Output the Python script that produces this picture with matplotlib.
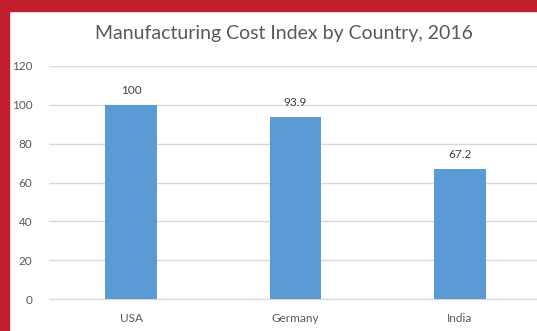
import matplotlib
matplotlib.use("Agg")
import matplotlib.pyplot as plt
from matplotlib.patches import Rectangle

countries = ["USA", "Germany", "India"]
values = [100, 93.9, 67.2]
value_labels = ["100", "93.9", "67.2"]
yticks = [0, 20, 40, 60, 80, 100, 120]

plt.rcParams['font.family'] = ['Lato', 'DejaVu Sans']

W, H = 537, 331
fig = plt.figure(figsize=(W/100, H/100), dpi=100)
fig.patch.set_facecolor('white')

ax = fig.add_axes([49/W, 1-299/H, (542-49)/W, (299-66)/H])
x = list(range(len(countries)))
ax.bar(x, values, width=0.316, color='#5b9bd5', zorder=3)
ax.set_xlim(-0.5, 2.5)
ax.set_ylim(0, 120)
ax.set_yticks(yticks)
ax.set_yticklabels([str(t) for t in yticks])
ax.set_xticks(x)
ax.set_xticklabels(countries)
ax.grid(axis='y', color='#d9d9d9', linewidth=1, zorder=0)
for s in ['top', 'right', 'left']:
    ax.spines[s].set_visible(False)
ax.spines['bottom'].set_color('#d9d9d9')
ax.tick_params(axis='both', length=0, labelsize=8.5, colors='#595959')
ax.tick_params(axis='y', pad=12)
ax.tick_params(axis='x', pad=10)

for xi, v, lab in zip(x, values, value_labels):
    ax.annotate(lab, (xi, v), xytext=(0, 6), textcoords='offset points',
                ha='center', va='bottom', fontsize=8.5, color='#404040')

fig.text(0.528, 1-33/H, "Manufacturing Cost Index by Country, 2016",
         ha='center', va='center', fontsize=14, color='#595959')

red = '#c11f2e'
fig.patches.append(Rectangle((0, 1-11/H), 1, 11/H, transform=fig.transFigure,
                             color=red, zorder=10))
fig.patches.append(Rectangle((0, 0), 9/W, 1, transform=fig.transFigure,
                             color=red, zorder=10))

fig.savefig("out.png", dpi=100)
